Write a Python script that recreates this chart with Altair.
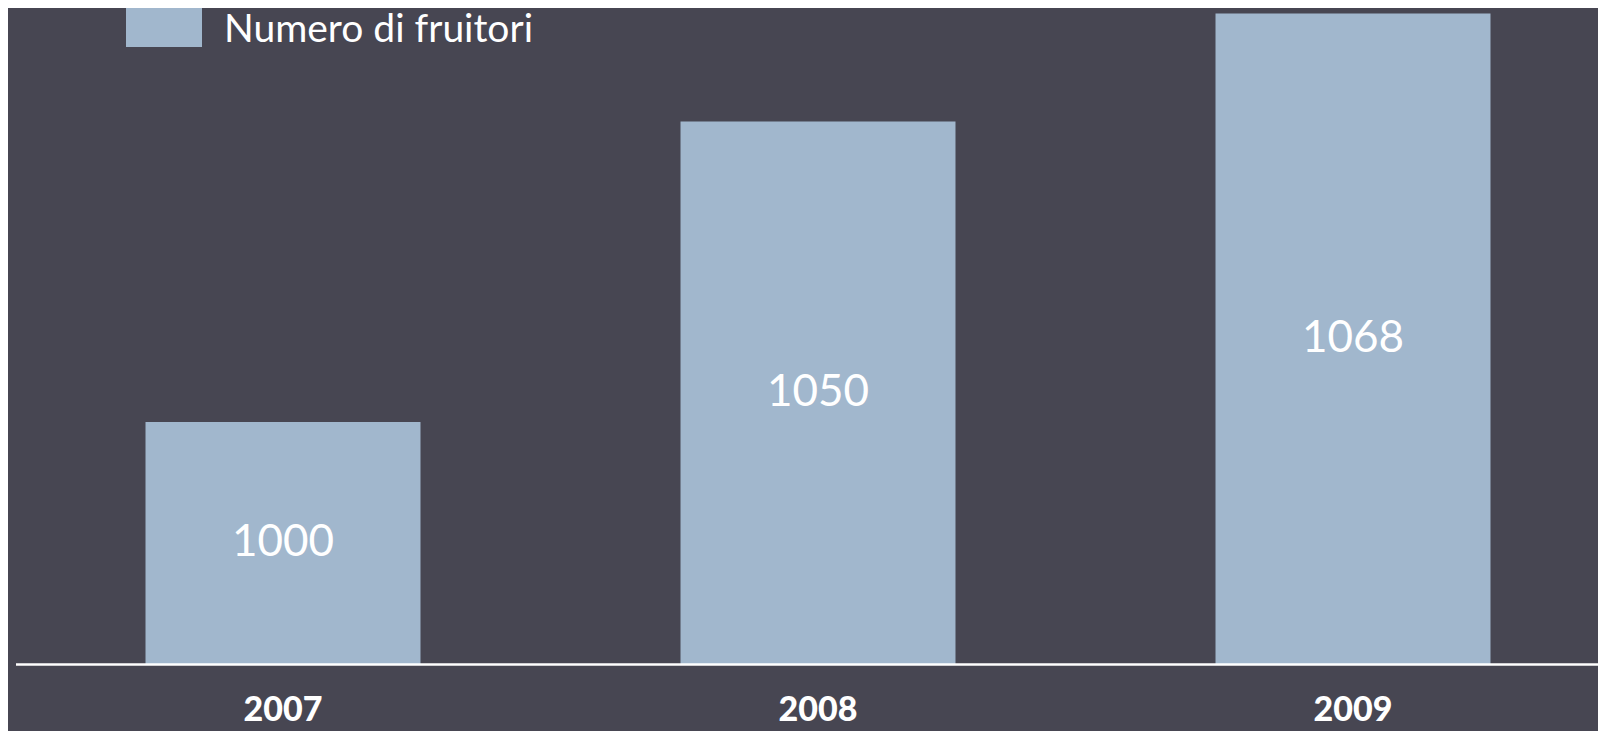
import altair as alt
import pandas as pd

# Data
years = ["2007", "2008", "2009"]
fruitori = [1000, 1050, 1068]
series_name = "Numero di fruitori"
y_min, y_max = 959.7, 1068.9

df = pd.DataFrame({
    "anno": years,
    "fruitori": fruitori,
    "serie": [series_name] * len(years),
})

BG = "#474652"
BAR = "#A1B7CD"

x_enc = alt.X(
    "anno:N",
    sort=years,
    title=None,
    scale=alt.Scale(range=[1.5, 1606.5], paddingInner=0.486, paddingOuter=0.243),
    axis=alt.Axis(
        domainColor="white",
        domainWidth=2.5,
        ticks=False,
        grid=False,
        labelAngle=0,
        labelColor="white",
        labelFont="Lato",
        labelFontWeight=900,
        labelFontSize=34,
        labelBaseline="middle",
        labelPadding=46,
        zindex=1,
    ),
)

y_scale = alt.Scale(domain=[y_min, y_max], zero=False, nice=False)

bars = alt.Chart(df).mark_bar().encode(
    x=x_enc,
    y=alt.Y("fruitori:Q", scale=y_scale, axis=None),
    y2=alt.datum(y_min),
    color=alt.Color(
        "serie:N",
        scale=alt.Scale(domain=[series_name], range=[BAR]),
        legend=alt.Legend(
            title=None,
            orient="none",
            legendX=112,
            legendY=-16,
            padding=0,
            symbolType="M-1,-1.553H1V0.447H-1Z",
            symbolSize=5776,
            symbolStrokeWidth=0,
            symbolOpacity=1,
            labelColor="white",
            labelFont="Lato",
            labelFontSize=39,
            labelOffset=22,
            labelLimit=0,
        ),
    ),
)

labels = alt.Chart(df).transform_calculate(
    mid=f"(datum.fruitori + {y_min}) / 2"
).mark_text(
    color="white", font="Lato", fontSize=44, baseline="middle", align="center"
).encode(
    x=alt.X("anno:N", sort=years),
    y=alt.Y("mid:Q", scale=y_scale, axis=None),
    text=alt.Text("fruitori:Q", format="d"),
)

chart = alt.layer(bars, labels).properties(
    width=1584,
    height=656,
    padding={"left": 6, "top": 0, "right": 0, "bottom": 67},
    autosize="none",
    background=BG,
).configure_view(stroke=None)

chart.save("out.html", embed_options={"renderer": "svg", "actions": False})
